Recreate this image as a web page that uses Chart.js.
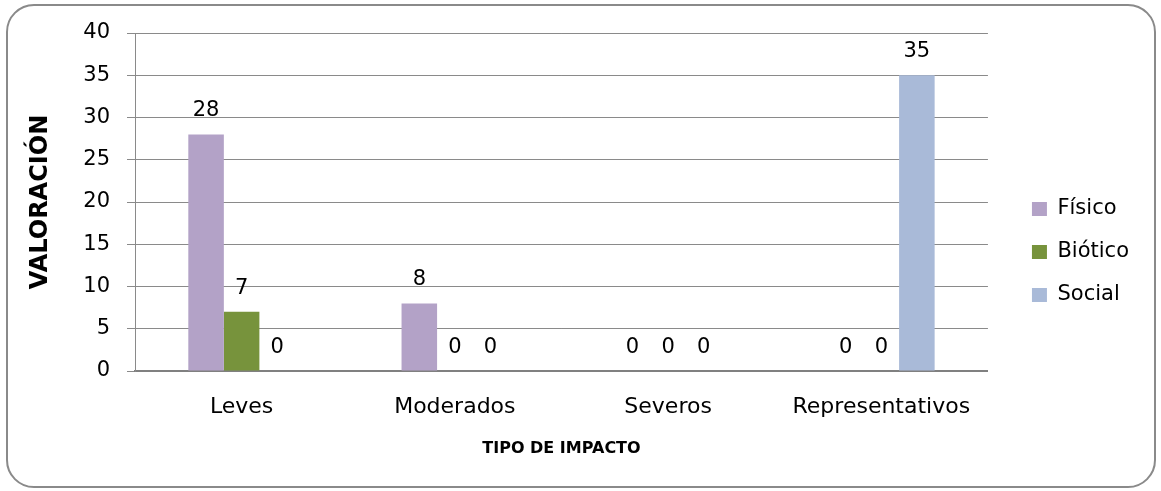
<!DOCTYPE html>
<html>
<head>
    <meta charset="utf-8" />
    <title>Tipo de impacto</title>
    <script src="https://cdn.jsdelivr.net/npm/chart.js"></script>
    <style>
        body { margin: 0; background: #fff; }
        #frame {
            position: absolute; left: 6px; top: 4px; width: 1146px; height: 480px;
            border: 2px solid #8a8a8a; border-radius: 28px;
        }
        #wrap { position: absolute; left: 0; top: 0; width: 1161px; height: 491px; }
    </style>
</head>
<body>
    <div id="frame"></div>
    <div id="wrap"><canvas id="impactChart" width="1161" height="491"></canvas></div>

    <script>
        // datos
        const categorias = ['Leves', 'Moderados', 'Severos', 'Representativos'];
        const fisico = [28, 8, 0, 0];
        const biotico = [7, 0, 0, 0];
        const social = [0, 0, 0, 35];
        const ticksY = [0, 5, 10, 15, 20, 25, 30, 35, 40];

        const fuente = "'DejaVu Sans', sans-serif";

        // etiquetas con el valor encima de cada barra
        const etiquetas = {
            id: 'etiquetas',
            afterDatasetsDraw(chart) {
                const ctx = chart.ctx;
                ctx.save();
                ctx.font = '21px ' + fuente;
                ctx.fillStyle = '#000';
                ctx.textAlign = 'center';
                ctx.textBaseline = 'bottom';
                chart.data.datasets.forEach((ds, i) => {
                    chart.getDatasetMeta(i).data.forEach((bar, j) => {
                        ctx.fillText(String(ds.data[j]), bar.x, bar.y - 13);
                    });
                });
                ctx.restore();
            }
        };

        // correr la leyenda un poco hacia la derecha, como en el original
        const moverLeyenda = {
            id: 'moverLeyenda',
            afterLayout(chart) {
                if (chart.legend) {
                    chart.legend.left += 22;
                    chart.legend.right += 22;
                }
            }
        };

        const ctx = document.getElementById('impactChart').getContext('2d');
        new Chart(ctx, {
            type: 'bar',
            data: {
                labels: categorias,
                datasets: [
                    { label: 'Físico', data: fisico, backgroundColor: '#B3A2C7' },
                    { label: 'Biótico', data: biotico, backgroundColor: '#77933C' },
                    { label: 'Social', data: social, backgroundColor: '#A9BAD8' }
                ]
            },
            options: {
                responsive: false,
                animation: false,
                layout: { padding: { left: 20, top: 33, right: 44, bottom: 20 } },
                datasets: { bar: { categoryPercentage: 0.5, barPercentage: 1.0 } },
                plugins: {
                    legend: {
                        position: 'right',
                        labels: {
                            font: { family: fuente, size: 21 },
                            color: '#000',
                            boxWidth: 15,
                            boxHeight: 14,
                            padding: 22
                        }
                    },
                    tooltip: { enabled: false }
                },
                scales: {
                    x: {
                        grid: { display: false },
                        border: { display: true, color: '#808080', width: 2 },
                        ticks: { font: { family: fuente, size: 22 }, color: '#000', padding: 15 },
                        title: {
                            display: true, text: 'TIPO DE IMPACTO', color: '#000',
                            font: { family: fuente, size: 16, weight: 'bold' },
                            padding: { top: 13, bottom: 13 }
                        },
                        afterFit(scale) { scale.height = 100; }
                    },
                    y: {
                        min: 0, max: 40,
                        afterBuildTicks(scale) { scale.ticks = ticksY.map(v => ({ value: v })); },
                        grid: { color: '#8a8a8a', tickLength: 8 },
                        border: { display: true, color: '#8a8a8a' },
                        ticks: { font: { family: fuente, size: 21 }, color: '#000', padding: 17 },
                        title: {
                            display: true, text: 'VALORACIÓN', color: '#000',
                            font: { family: fuente, size: 24, weight: 'bold' },
                            padding: { top: 6, bottom: 6 }
                        },
                        afterFit(scale) { scale.width = 115; }
                    }
                }
            },
            plugins: [etiquetas, moverLeyenda]
        });
    </script>
</body>
</html>
